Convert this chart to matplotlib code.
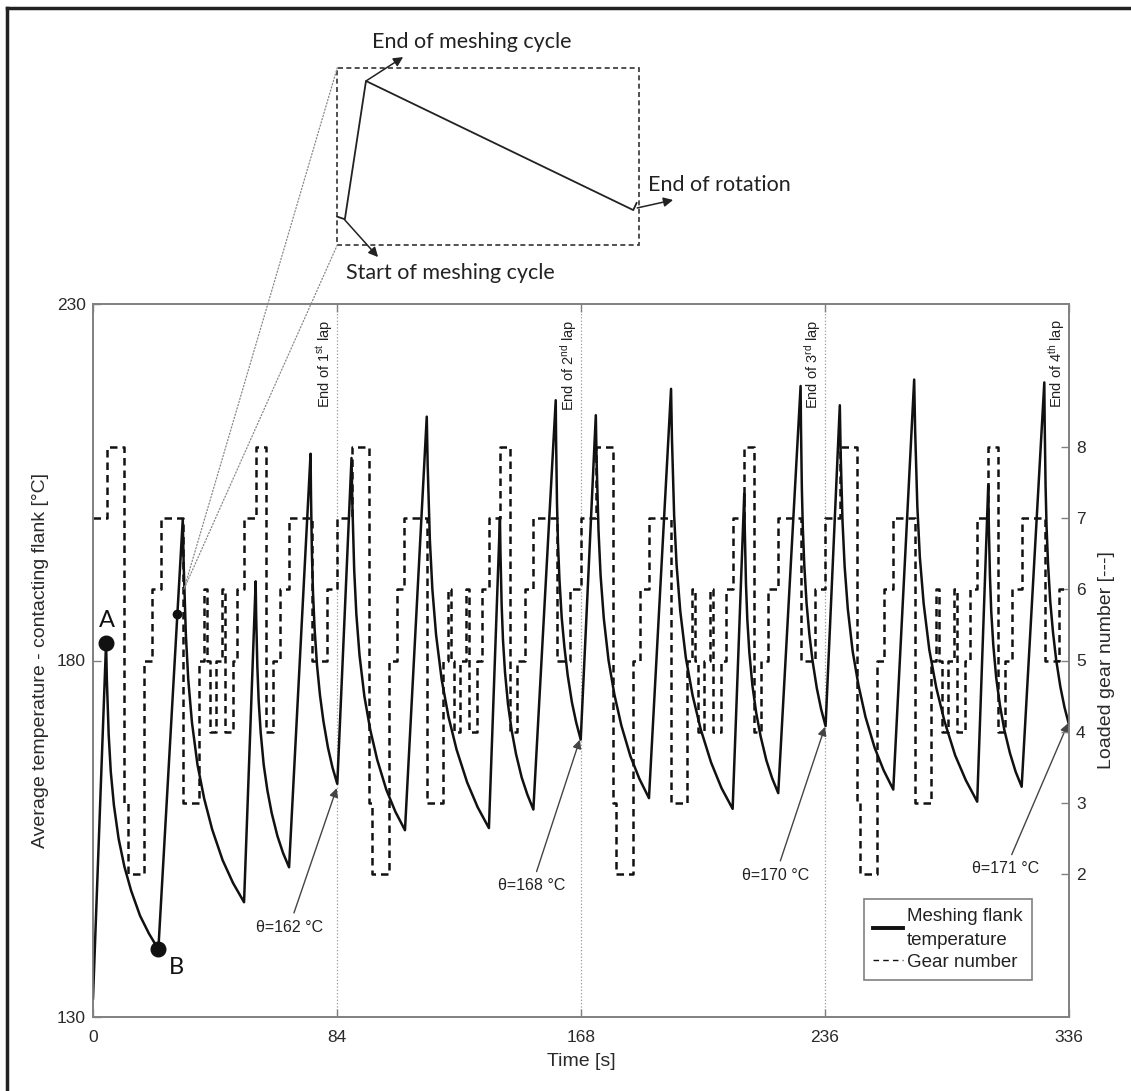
import matplotlib
matplotlib.use("Agg")
import matplotlib.pyplot as plt
from matplotlib.patches import Rectangle, ConnectionPatch
from matplotlib.lines import Line2D

plt.rcParams["font.family"] = ["Liberation Sans", "DejaVu Sans"]
plt.rcParams["mathtext.default"] = "regular"

# meshing flank temperature [s, degC] - peak, trough
temp_t = [0.0,
          4.5, 4.77, 5.4, 6.12, 7.2, 8.82, 10.8, 13.14, 16.2, 19.26, 22.5,
          30.9, 31.22, 31.96, 32.80, 34.07, 35.96, 38.29, 41.03, 44.62, 48.20, 52.0,
          56.0, 56.17, 56.58, 57.04, 57.73, 58.76, 60.03, 61.52, 63.48, 65.43, 67.5,
          74.9, 75.04, 75.36, 75.73, 76.28, 77.11, 78.12, 79.32, 80.88, 82.44, 84.1,
          89.0, 89.28, 89.92, 90.66, 91.76, 93.42, 95.44, 97.83, 100.96, 104.09, 107.4,
          114.9, 115.22, 115.97, 116.83, 118.11, 120.04, 122.39, 125.17, 128.81, 132.45, 136.3,
          140.1, 140.27, 140.68, 141.14, 141.83, 142.86, 144.13, 145.62, 147.58, 149.53, 151.6,
          159.3, 159.43, 159.73, 160.07, 160.59, 161.36, 162.31, 163.43, 164.89, 166.35, 167.9,
          173.1, 173.37, 174.02, 174.75, 175.85, 177.49, 179.51, 181.88, 184.99, 188.11, 191.4,
          199.0, 199.32, 200.06, 200.91, 202.18, 204.09, 206.42, 209.18, 212.78, 216.38, 220.2,
          224.2, 224.38, 224.79, 225.25, 225.96, 227.01, 228.30, 229.82, 231.81, 233.79, 235.9,
          243.6, 243.73, 244.03, 244.37, 244.89, 245.66, 246.61, 247.73, 249.19, 250.65, 252.2,
          257.1, 257.38, 258.02, 258.76, 259.86, 261.52, 263.54, 265.93, 269.06, 272.19, 275.5,
          282.7, 283.03, 283.79, 284.65, 285.96, 287.91, 290.30, 293.12, 296.81, 300.49, 304.4,
          308.2, 308.37, 308.78, 309.24, 309.93, 310.96, 312.23, 313.72, 315.68, 317.63, 319.7,
          327.5, 327.63, 327.93, 328.27, 328.78, 329.54, 330.48, 331.58, 333.03, 334.47, 336.0]
temp_c = [132.6,
          182.5, 177.3, 169.6, 164.4, 159.7, 155.0, 151.1, 147.7, 144.2, 141.7, 139.5,
          199.8, 193.4, 183.7, 177.3, 171.3, 165.4, 160.6, 156.3, 152.0, 148.8, 146.1,
          191.1, 186.3, 179.1, 174.3, 169.9, 165.4, 161.8, 158.6, 155.4, 153.0, 151.0,
          209.0, 203.4, 195.1, 189.6, 184.5, 179.4, 175.2, 171.5, 167.8, 165.0, 162.7,
          208.4, 202.1, 192.7, 186.5, 180.7, 175.0, 170.3, 166.1, 161.9, 158.8, 156.2,
          214.2, 207.3, 196.9, 190.0, 183.6, 177.3, 172.1, 167.5, 162.9, 159.4, 156.5,
          200.1, 195.2, 187.8, 182.9, 178.4, 173.9, 170.2, 166.9, 163.6, 161.2, 159.1,
          216.5, 210.8, 202.2, 196.5, 191.3, 186.0, 181.8, 177.9, 174.1, 171.3, 168.9,
          214.4, 208.0, 198.3, 191.9, 185.9, 180.0, 175.2, 170.9, 166.6, 163.4, 160.7,
          218.1, 211.0, 200.4, 193.4, 186.9, 180.4, 175.1, 170.4, 165.7, 162.1, 159.2,
          203.4, 198.4, 190.8, 185.8, 181.1, 176.5, 172.7, 169.4, 166.0, 163.5, 161.4,
          218.5, 212.8, 204.2, 198.5, 193.2, 188.0, 183.7, 179.9, 176.1, 173.2, 170.8,
          215.8, 209.3, 199.6, 193.2, 187.2, 181.3, 176.5, 172.1, 167.8, 164.6, 161.9,
          219.4, 212.3, 201.6, 194.5, 188.0, 181.5, 176.2, 171.5, 166.7, 163.2, 160.2,
          204.6, 199.5, 191.9, 186.8, 182.2, 177.5, 173.7, 170.3, 167.0, 164.4, 162.3,
          219.0, 213.2, 204.6, 198.8, 193.6, 188.3, 184.0, 180.1, 176.3, 173.4, 171.0]

# loaded gear number (step changes)
gear_t = [0.0, 4.9, 10.8, 11.9, 17.7, 20.2, 23.3, 30.9, 36.6, 38.2, 39.1, 40.3, 42.3,
          44.3, 45.4, 48.1, 49.7, 52.0, 56.0, 59.4, 62.1, 64.4, 67.5, 75.3, 80.4,
          84.1, 89.0, 95.0, 95.9, 102.0, 104.5, 107.0, 114.9, 120.5, 122.2, 123.1, 124.3, 126.5,
          128.3, 129.5, 132.1, 133.8, 136.3, 140.1, 143.6, 145.9, 148.7, 151.6, 159.6, 164.2,
          168.0, 173.1, 179.0, 180.0, 185.8, 188.3, 191.4, 199.0, 204.6, 206.3, 207.2, 208.4, 210.4,
          212.4, 213.5, 216.2, 217.8, 220.2, 224.2, 227.5, 230.1, 232.5, 235.9, 243.8, 248.5,
          252.1, 257.1, 263.0, 264.0, 269.8, 272.3, 275.4, 282.9, 288.6, 290.3, 291.2, 292.4, 294.4,
          296.4, 297.5, 300.2, 301.8, 304.2, 308.2, 311.5, 314.1, 316.5, 319.7, 327.6, 332.4,
          336.0]
gear_n = [7, 8, 3, 2, 5, 6, 7, 3, 5, 6, 5, 4, 5,
          6, 4, 5, 6, 7, 8, 4, 5, 6, 7, 5, 6,
          7, 8, 3, 2, 5, 6, 7, 3, 5, 6, 5, 4, 5,
          6, 4, 5, 6, 7, 8, 4, 5, 6, 7, 5, 6,
          7, 8, 3, 2, 5, 6, 7, 3, 5, 6, 5, 4, 5,
          6, 4, 5, 6, 7, 8, 4, 5, 6, 7, 5, 6,
          7, 8, 3, 2, 5, 6, 7, 3, 5, 6, 5, 4, 5,
          6, 4, 5, 6, 7, 8, 4, 5, 6, 7, 5, 6,
          6]

lap_ends = [84, 168, 252, 336]
lap_names = ["1$^{st}$", "2$^{nd}$", "3$^{rd}$", "4$^{th}$"]
x_ticks = [0, 84, 168, 252, 336]
x_ticklabels = ["0", "84", "168", "236", "336"]

theta_vals = [162, 168, 170, 171]
theta_tip_t = [83.9, 167.6, 252.0, 335.7]
theta_tip_c = [162.1, 168.9, 170.7, 171.2]
theta_txt_t = [67.5, 151.1, 235.0, 314.2]
theta_txt_c = [142.6, 148.4, 149.9, 150.8]

# zoomed single meshing cycle (inset, normalised units)
inset_x = [0.0, 0.025, 0.095, 0.980, 0.991]
inset_y = [0.160, 0.145, 0.925, 0.197, 0.237]

W, H = 1131, 1091
fig = plt.figure(figsize=(W / 100, H / 100), dpi=100)
ax = fig.add_axes([93 / W, 1 - 1017 / H, 976 / W, 713 / H])
ax2 = ax.twinx()

line_col = "#111111"
spine_col = "#808080"
txt_col = "#2a2a2a"

for x in lap_ends[:3]:
    ax.axvline(x, color="#9a9a9a", ls=":", lw=0.9, zorder=1)
temp_line, = ax.plot(temp_t, temp_c, color=line_col, lw=1.8, zorder=3)
gear_line, = ax2.step(gear_t, gear_n, where="post", color=line_col, lw=1.8,
                      ls=(0, (3.0, 2.0)), zorder=2)

# markers A, B and small point of the zoomed cycle
ax.plot([4.5], [182.5], "o", color=line_col, ms=10.5, zorder=4)
ax.plot([22.5], [139.5], "o", color=line_col, ms=10.5, zorder=4)
ax.plot([28.9], [186.5], "o", color=line_col, ms=6, zorder=4)
ax.text(4.7, 185.6, "A", fontsize=17, family=["Lato", "DejaVu Sans"], ha="center", va="center", color="#111")
ax.text(28.7, 137.0, "B", fontsize=17, family=["Lato", "DejaVu Sans"], ha="center", va="center", color="#111")

for x, nm in zip(lap_ends, lap_names):
    ax.text(x - 4.3, 227.8, "End of " + nm + " lap", rotation=90, ha="center", va="top",
            fontsize=10.5, color="#222")

for v, tt, tc, xt, xc in zip(theta_vals, theta_tip_t, theta_tip_c, theta_txt_t, theta_txt_c):
    ax.annotate("\u03b8=%d \u00b0C" % v, xy=(tt, tc), xytext=(xt, xc), ha="center", va="center",
                fontsize=11.5, color="#222",
                arrowprops=dict(arrowstyle="-|>", color="#444", lw=1.0, shrinkA=3, shrinkB=0,
                                mutation_scale=13))

ax.set_xlim(0, 336)
ax.set_ylim(130, 230)
ax2.set_ylim(0, 10)
ax.set_xticks(x_ticks)
ax.set_xticklabels(x_ticklabels)
ax.set_yticks([130, 180, 230])
ax2.set_yticks([2, 3, 4, 5, 6, 7, 8])
ax.tick_params(axis="both", direction="in", length=6, width=1, colors=spine_col,
               labelcolor=txt_col, labelsize=12.5, pad=5, top=True)
ax.tick_params(axis="x", pad=9)
ax2.tick_params(axis="y", direction="in", length=6, width=1, colors=spine_col,
                labelcolor=txt_col, labelsize=12.5, pad=5)
for a in (ax, ax2):
    for s in a.spines.values():
        s.set_color(spine_col)
        s.set_linewidth(1.2)

ax.set_xlabel("Time [s]", fontsize=14, color=txt_col, labelpad=6)
ax.set_ylabel("Average temperature - contacting flank [\u00b0C]", fontsize=14, color=txt_col, labelpad=6)
ax2.set_ylabel("Loaded gear number [---]", fontsize=14, color=txt_col, labelpad=9)

leg_h = [Line2D([], [], color=line_col, lw=2.8),
         Line2D([], [], color=line_col, lw=1.0, ls=(0, (4, 3)))]
leg = ax.legend(leg_h, ["Meshing flank\ntemperature", "Gear number"], loc="lower right",
                bbox_to_anchor=(0.962, 0.052), fontsize=13.5, frameon=True, fancybox=False,
                framealpha=1, edgecolor=spine_col, handlelength=1.6, handletextpad=0.2,
                labelspacing=0.25, borderpad=0.5, borderaxespad=0)
leg.get_frame().set_linewidth(1.2)
for t in leg.get_texts():
    t.set_color("#222")
    t.set_linespacing(1.5)
leg.set_zorder(10)

# inset with a single meshing cycle
ins = fig.add_axes([337.3 / W, 1 - 245 / H, 302 / W, 177.3 / H])
ins.set_xlim(0, 1)
ins.set_ylim(0, 1)
ins.axis("off")
ins.add_patch(Rectangle((0, 0), 1, 1, fill=False, ls=(0, (3, 2)), lw=1.2, ec="#333",
                        transform=ins.transAxes, clip_on=False))
ins.plot(inset_x, inset_y, color="#222", lw=1.3, clip_on=False)

ann_font = dict(fontsize=15.5, family=["Lato", "DejaVu Sans"], color="#222")
arr = dict(arrowstyle="-|>", color="#222", lw=1.1, shrinkA=0, shrinkB=0, mutation_scale=14)
ins.annotate("", xy=(0.218, 1.060), xytext=(0.095, 0.925), arrowprops=arr, annotation_clip=False)
ins.annotate("", xy=(0.135, -0.068), xytext=(0.025, 0.141), arrowprops=arr, annotation_clip=False)
ins.annotate("", xy=(1.112, 0.254), xytext=(0.993, 0.209), arrowprops=arr, annotation_clip=False)
ins.text(0.446, 1.145, "End of meshing cycle", ha="center", va="center", **ann_font)
ins.text(0.373, -0.158, "Start of meshing cycle", ha="center", va="center", **ann_font)
ins.text(1.029, 0.338, "End of rotation", ha="left", va="center", **ann_font)

for corner in [(0, 1), (0, 0)]:
    con = ConnectionPatch(xyA=corner, coordsA=ins.transAxes, xyB=(31.3, 190.0), coordsB=ax.transData,
                          ls=":", color="#888", lw=0.9)
    fig.add_artist(con)

# page frame (left and top edges)
fig.add_artist(Line2D([7 / W, 7 / W], [0, 1 - 8 / H], transform=fig.transFigure, color="#222", lw=2.5))
fig.add_artist(Line2D([7 / W, 1], [1 - 8 / H, 1 - 8 / H], transform=fig.transFigure, color="#222", lw=2.5))

fig.savefig("out.png", dpi=100, facecolor="white")
